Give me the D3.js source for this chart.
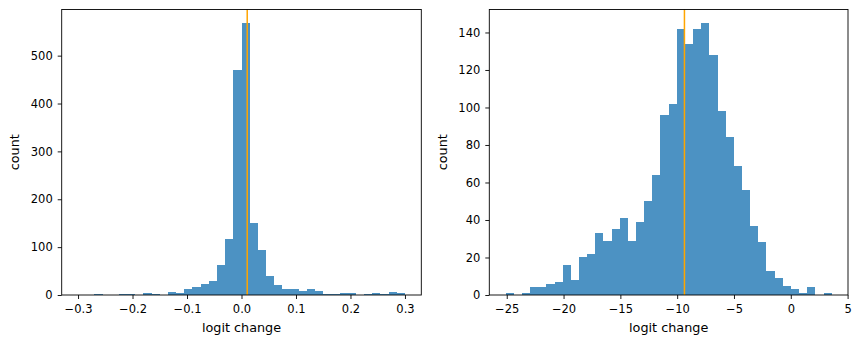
<!DOCTYPE html>
<html>
<head>
<meta charset="utf-8">
<script src="https://cdn.jsdelivr.net/npm/d3@7"></script>
<style>
  body { margin: 0; background: #fff; }
  svg text { font-family: "DejaVu Sans", sans-serif; fill: #000; }
  .tick text { font-size: 11.5px; }
  .tick line { stroke: #000; stroke-width: 0.9; }
</style>
</head>
<body>
<div class="chart"></div>
<script>
// histogram counts, 40 equal bins each
const leftRange = [-0.3, 0.3];
const leftCounts = [0, 0, 2, 0, 1, 2, 2, 0, 4, 2, 0, 6, 4, 13, 16, 22, 29, 62, 116, 469,
                    568, 151, 94, 40, 21, 12, 13, 8, 12, 8, 3, 2, 4, 4, 0, 2, 4, 2, 6, 4];
const leftMarker = 0.0105;
const leftXTicks = [-0.3, -0.2, -0.1, 0.0, 0.1, 0.2, 0.3];
const leftYTicks = [0, 100, 200, 300, 400, 500];

const rightRange = [-25.1, 3.6];
const rightCounts = [1, 0, 1, 4, 4, 6, 7, 16, 8, 20, 22, 33, 29, 35, 41, 29, 39, 50, 64, 96,
                     102, 142, 134, 142, 145, 128, 98, 84, 69, 56, 37, 28, 13, 9, 5, 3, 1, 4, 0, 1];
const rightMarker = -9.36;
const rightXTicks = [-25, -20, -15, -10, -5, 0, 5];
const rightYTicks = [0, 20, 40, 60, 80, 100, 120, 140];

const d3 = window.d3;

const svg = d3.select(".chart").append("svg")
    .attr("width", 860)
    .attr("height", 345);

let drawHist = (opts) => {
    const {left, right, top, bottom, range, counts, marker, xTicks, yTicks, xFmt, labelX} = opts;
    const n = counts.length;
    const w = (range[1] - range[0]) / n;
    const bins = counts.map((c, i) => ({x0: range[0] + i * w, x1: range[0] + (i + 1) * w, c: c}));

    // matplotlib style 5% margins
    const pad = (range[1] - range[0]) * 0.05;
    let x = d3.scaleLinear()
        .domain([range[0] - pad, range[1] + pad])
        .range([left, right]);
    let y = d3.scaleLinear()
        .domain([0, d3.max(counts) * 1.05])
        .range([bottom, top]);

    const g = svg.append("g");

    g.selectAll(".bar")
        .data(bins)
        .enter().append("rect")
        .attr("class", "bar")
        .attr("x", d => x(d.x0))
        .attr("width", d => x(d.x1) - x(d.x0))
        .attr("y", d => y(d.c))
        .attr("height", d => bottom - y(d.c))
        .attr("fill", "#1f77b4")
        .attr("fill-opacity", 0.8)
        .attr("shape-rendering", "crispEdges");

    g.append("line")
        .attr("x1", x(marker))
        .attr("x2", x(marker))
        .attr("y1", top)
        .attr("y2", bottom)
        .attr("stroke", "orange")
        .attr("stroke-width", 1.5);

    // frame
    g.append("rect")
        .attr("x", left)
        .attr("y", top)
        .attr("width", right - left)
        .attr("height", bottom - top)
        .attr("fill", "none")
        .attr("stroke", "#000")
        .attr("stroke-width", 0.9);

    g.append("g")
        .attr("transform", "translate(0," + bottom + ")")
        .call(d3.axisBottom(x).tickValues(xTicks).tickFormat(xFmt).tickSize(4).tickPadding(5.5).tickSizeOuter(0));

    g.append("g")
        .attr("transform", "translate(" + left + ",0)")
        .call(d3.axisLeft(y).tickValues(yTicks).tickFormat(d3.format("d")).tickSize(4).tickPadding(5).tickSizeOuter(0));

    g.selectAll(".domain").remove();

    g.append("text")
        .attr("x", (left + right) / 2)
        .attr("y", 332)
        .attr("text-anchor", "middle")
        .attr("font-size", 12.8)
        .text("logit change");

    g.append("text")
        .attr("transform", "translate(" + labelX + "," + (top + bottom) / 2 + ") rotate(-90)")
        .attr("text-anchor", "middle")
        .attr("font-size", 12.8)
        .text("count");
};

drawHist({left: 61.7, right: 421.3, top: 9.5, bottom: 295,
    range: leftRange, counts: leftCounts, marker: leftMarker,
    xTicks: leftXTicks, yTicks: leftYTicks, xFmt: d3.format(".1f"), labelX: 19});

drawHist({left: 489.3, right: 848, top: 9.5, bottom: 295,
    range: rightRange, counts: rightCounts, marker: rightMarker,
    xTicks: rightXTicks, yTicks: rightYTicks, xFmt: d3.format("d"), labelX: 447});
</script>
</body>
</html>
